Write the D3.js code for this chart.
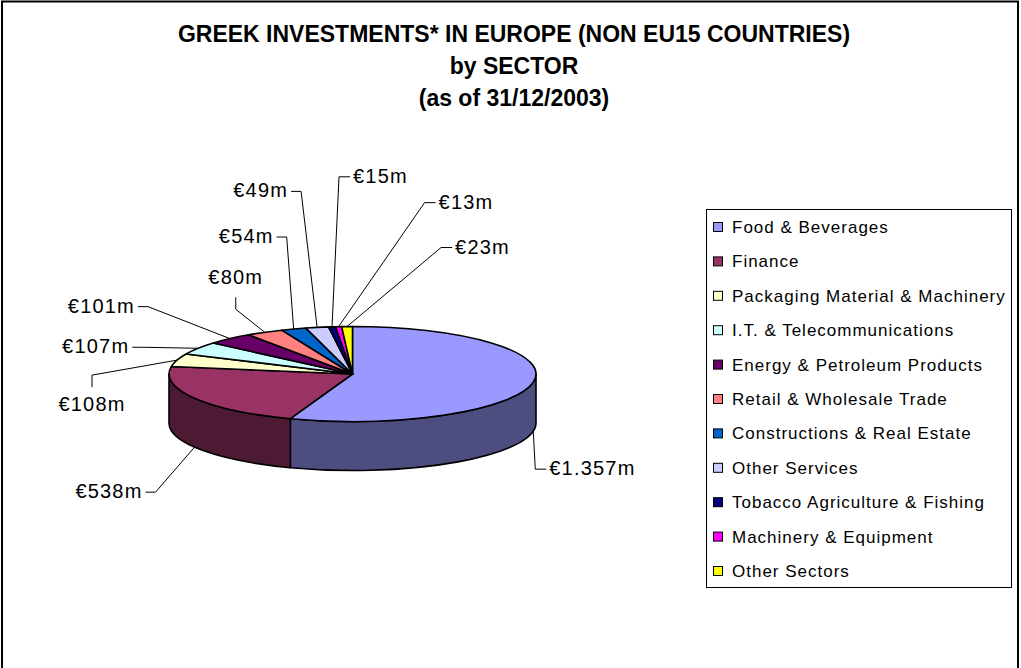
<!DOCTYPE html>
<html>
<head>
<meta charset="utf-8">
<script src="https://cdn.jsdelivr.net/npm/d3@7/dist/d3.min.js"></script>
<style>
  body { margin: 0; background: #fff; }
  svg { display: block; }
  text { font-family: "Liberation Sans", Arial, sans-serif; fill: #000; }
</style>
</head>
<body>
<svg id="chart" width="1021" height="668"></svg>
<script>
// data
const sectors = ["Food & Beverages", "Finance", "Packaging Material & Machinery", "I.T. & Telecommunications",
  "Energy & Petroleum Products", "Retail & Wholesale Trade", "Constructions & Real Estate", "Other Services",
  "Tobacco Agriculture & Fishing", "Machinery & Equipment", "Other Sectors"]
const values = [1357, 538, 108, 107, 101, 80, 54, 49, 15, 13, 23] // € million
const titleLines = ["GREEK INVESTMENTS* IN EUROPE (NON EU15 COUNTRIES)", "by SECTOR", "(as of 31/12/2003)"]

// styles / layout
const palette = ["#9999FF", "#993366", "#FFFFCC", "#CCFFFF", "#660066", "#FF8080", "#0066CC", "#CCCCFF", "#000080", "#FF00FF", "#FFFF00"]
// where each label was dragged to, relative to its anchor on the pie edge
const labelLayout = [
  { dx: 2, dy: 38, side: "right" },
  { dx: -39, dy: 45, side: "left" },
  { dx: -85, dy: 15, side: "below" },
  { dx: -56, dy: -1, side: "left" },
  { dx: -82, dy: -32, side: "left" },
  { dx: -29, dy: -23, side: "above" },
  { dx: -7, dy: -92, side: "left" },
  { dx: -16, dy: -136, side: "left" },
  { dx: 7, dy: -150, side: "right" },
  { dx: 86, dy: -124, side: "right" },
  { dx: 94, dy: -79, side: "right" }
]

const euro = d3.formatLocale({ decimal: ",", thousands: ".", grouping: [3], currency: ["€", ""] })
const fmt = v => "€" + euro.format(",")(v) + "m"

const svg = d3.select("#chart")

// chart area border
svg.append("rect").attr("x", 2).attr("y", 1.5).attr("width", 1016).attr("height", 700)
  .attr("fill", "#fff").attr("stroke", "#000").attr("stroke-width", 2)

svg.selectAll(".title").data(titleLines).join("text").attr("class", "title")
  .attr("x", 514).attr("y", (d, i) => 42 + i * 32)
  .attr("text-anchor", "middle").attr("font-weight", "bold").attr("font-size", 23)
  .text(d => d)

// 3d pie
const cx = 352.5, cy = 374, rx = 183.5, ry = 47.5, depth = 49
const pt = (a, off = 0) => [cx + rx * Math.sin(a), cy - ry * Math.cos(a) + off]
const arcs = d3.pie().sort(null).value(d => d)(values)

const topPath = d => {
  const s = pt(d.startAngle), e = pt(d.endAngle)
  const large = d.endAngle - d.startAngle > Math.PI ? 1 : 0
  return `M${cx},${cy}L${s}A${rx},${ry} 0 ${large} 1 ${e}Z`
}
const sidePath = d => {
  const a = Math.max(d.startAngle, Math.PI / 2), b = Math.min(d.endAngle, Math.PI * 1.5)
  if (a >= b) return null
  return `M${pt(a)}A${rx},${ry} 0 0 1 ${pt(b)}L${pt(b, depth)}A${rx},${ry} 0 0 0 ${pt(a, depth)}Z`
}

const pieG = svg.append("g")
pieG.selectAll(".side").data(arcs.filter(d => sidePath(d))).join("path").attr("class", "side")
  .attr("d", sidePath)
  .attr("fill", d => d3.rgb(palette[d.index]).darker(1.94))
  .attr("stroke", "#000").attr("stroke-width", 1.6).attr("stroke-linejoin", "round")
pieG.selectAll(".top").data(arcs).join("path").attr("class", "top")
  .attr("d", topPath)
  .attr("fill", d => palette[d.index])
  .attr("stroke", "#000").attr("stroke-width", 1.6).attr("stroke-linejoin", "round")

// data labels with leader lines
const labels = arcs.map(d => {
  const mid = (d.startAngle + d.endAngle) / 2
  const anchor = Math.cos(mid) < 0 ? pt(mid, depth) : pt(mid)
  const lay = labelLayout[d.index]
  const elbow = [anchor[0] + lay.dx, anchor[1] + lay.dy]
  let end, tx, ty, ta
  if (lay.side === "right") { end = [elbow[0] + 11, elbow[1]]; tx = end[0] + 3; ty = elbow[1] - 1; ta = "start" }
  else if (lay.side === "left") { end = [elbow[0] - 10, elbow[1]]; tx = end[0] - 3; ty = elbow[1] - 1; ta = "end" }
  else if (lay.side === "above") { end = [elbow[0], elbow[1] - 12]; tx = end[0]; ty = end[1] - 20; ta = "middle" }
  else { end = [elbow[0], elbow[1] + 12]; tx = end[0]; ty = end[1] + 17; ta = "middle" }
  return { anchor, elbow, end, tx, ty, ta, text: fmt(d.value) }
})

svg.selectAll(".leader").data(labels).join("polyline").attr("class", "leader")
  .attr("points", d => [d.anchor, d.elbow, d.end].join(" "))
  .attr("fill", "none").attr("stroke", "#000").attr("stroke-width", 1)
svg.selectAll(".dlabel").data(labels).join("text").attr("class", "dlabel")
  .attr("x", d => d.tx).attr("y", d => d.ty + 7)
  .attr("text-anchor", d => d.ta).attr("font-size", 20).attr("letter-spacing", 1.2)
  .text(d => d.text)

// legend
const legend = svg.append("g")
legend.append("rect").attr("x", 706.5).attr("y", 209.5).attr("width", 305).attr("height", 378)
  .attr("fill", "#fff").attr("stroke", "#000").attr("stroke-width", 1)
const item = legend.selectAll(".item").data(sectors).join("g").attr("class", "item")
  .attr("transform", (d, i) => `translate(0,${227 + i * 34.4})`)
item.append("rect").attr("x", 713.5).attr("y", -4.5).attr("width", 9).attr("height", 9)
  .attr("fill", (d, i) => palette[i]).attr("stroke", "#000").attr("stroke-width", 1)
item.append("text").attr("x", 732).attr("y", 6).attr("font-size", 17).attr("letter-spacing", 1)
  .text(d => d)
</script>
</body>
</html>
